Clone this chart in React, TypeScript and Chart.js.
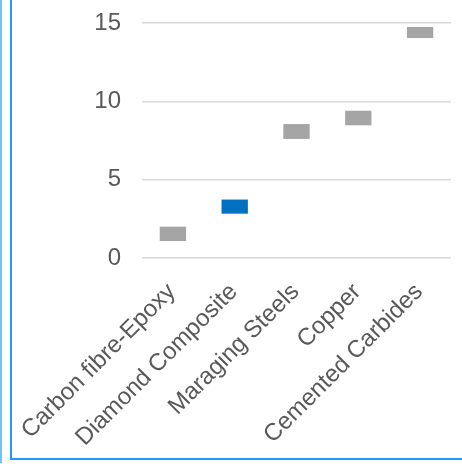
import React, { useEffect, useRef } from "react";
import { Chart, registerables } from "chart.js";

Chart.register(...registerables);

const categories = [
  "Carbon fibre-Epoxy",
  "Diamond Composite",
  "Maraging Steels",
  "Copper",
  "Cemented Carbides",
];
const lows = [1.08, 2.83, 7.6, 8.47, 14.04];
const highs = [2.0, 3.73, 8.55, 9.4, 14.75];
const barColors = ["#a5a5a5", "#0070c0", "#a5a5a5", "#a5a5a5", "#a5a5a5"];
const yTicks = [0, 5, 10, 15];

export default function App() {
  const ref = useRef<HTMLCanvasElement | null>(null);

  useEffect(() => {
    if (!ref.current) return;
    const font = { family: "'Liberation Sans', Arial, sans-serif", size: 24 };
    const chart = new Chart(ref.current, {
      type: "bar",
      data: {
        labels: categories,
        datasets: [
          {
            data: categories.map((_, i) => [lows[i], highs[i]]) as any,
            backgroundColor: barColors,
            borderWidth: 0,
            borderSkipped: false,
            barPercentage: 0.426,
            categoryPercentage: 1,
          },
        ],
      },
      options: {
        animation: false,
        responsive: false,
        maintainAspectRatio: false,
        layout: { padding: { top: 23, right: 11, left: 0, bottom: 0 } },
        plugins: { legend: { display: false }, tooltip: { enabled: false } },
        scales: {
          x: {
            grid: { display: false, drawTicks: false },
            border: { display: false },
            ticks: {
              color: "#595959",
              font,
              minRotation: 45,
              maxRotation: 45,
              padding: 20,
              labelOffset: -1,
              autoSkip: false,
            },
            afterFit: (s: any) => {
              s.height = 200;
              s.paddingLeft = 0;
              s.paddingRight = 0;
            },
          },
          y: {
            min: 0,
            max: 15,
            afterBuildTicks: (s: any) => {
              s.ticks = yTicks.map((v) => ({ value: v }));
            },
            grid: { color: "#d9d9d9", lineWidth: 1.5, drawTicks: false },
            border: { display: false },
            ticks: { color: "#595959", font, padding: 21 },
            afterFit: (s: any) => {
              s.width = 130;
              s.paddingTop = 0;
              s.paddingBottom = 0;
            },
          },
        },
      },
    });
    return () => chart.destroy();
  }, []);

  return (
    <div
      style={{
        position: "fixed",
        left: 0,
        top: 0,
        width: 462,
        height: 466,
        overflow: "hidden",
        background: "#fff",
      }}
    >
      <div
        style={{
          position: "absolute",
          left: 0,
          top: 0,
          width: 2,
          height: 463,
          background: "#6cc4f7",
        }}
      />
      <div
        style={{
          position: "absolute",
          left: 10,
          top: -20,
          width: 480,
          height: 480,
          border: "2px solid #1f9bff",
          boxSizing: "border-box",
        }}
      />
      <canvas
        ref={ref}
        width={450}
        height={458}
        style={{ position: "absolute", left: 12, top: 0, width: 450, height: 458 }}
      />
    </div>
  );
}
